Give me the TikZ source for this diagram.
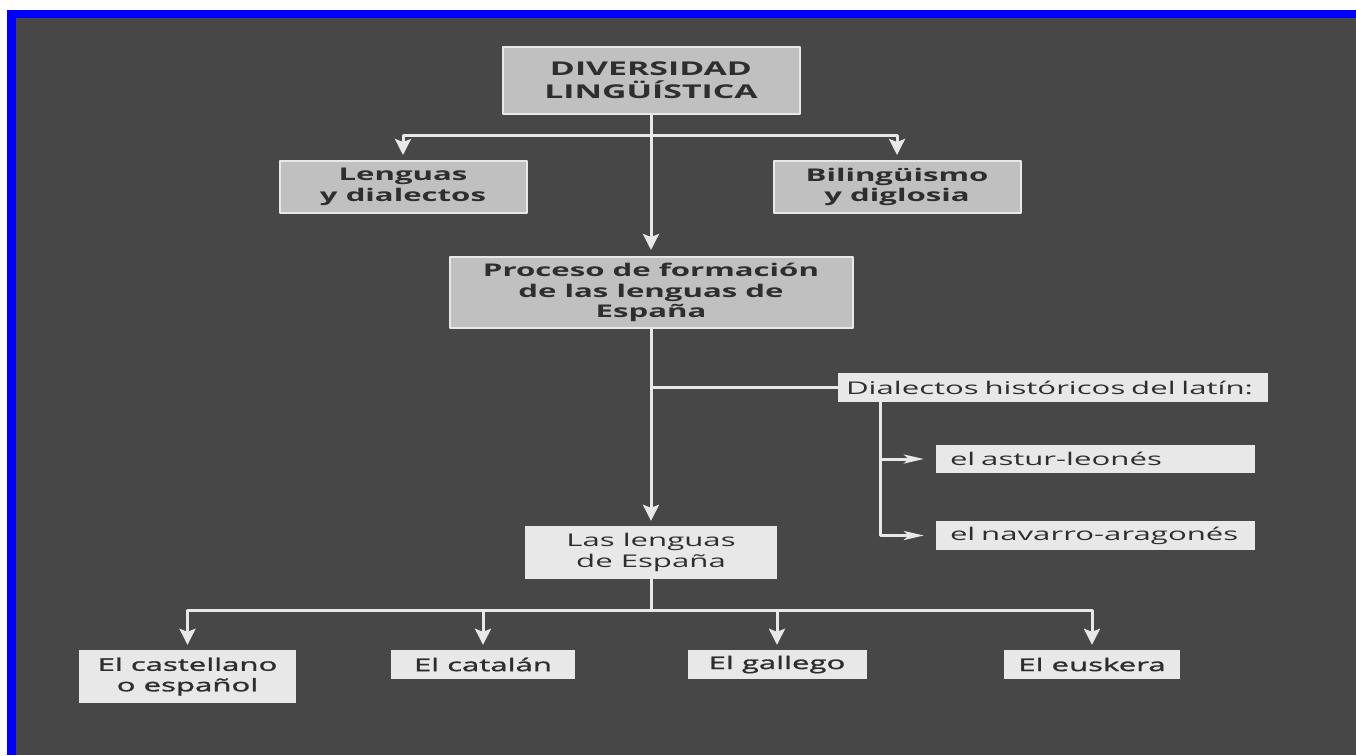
\documentclass[tikz,border=0pt]{standalone}
\usepackage{fontspec}
\setmainfont{Open Sans}[FakeStretch=1.78]
\newfontfamily\mediumfont{Open Sans}[FakeStretch=1.78, FakeBold=1.6]
\usetikzlibrary{arrows.meta}
\definecolor{bg}{HTML}{474747}
\definecolor{darkbox}{HTML}{C0C0C0}
\definecolor{lightbox}{HTML}{E8E8E8}
\definecolor{ink}{HTML}{2E2E2E}
\definecolor{frameblue}{HTML}{0000FF}

\begin{document}
\begin{tikzpicture}[x=1pt, y=-1pt, line join=round,
  greybox/.style={fill=darkbox, draw=lightbox, line width=2pt, inner sep=0pt, text=ink,
    font=\bfseries\fontsize{17.5}{20.5}\selectfont, align=center},
  lightbx/.style={fill=lightbox, inner sep=0pt, text=ink,
    font=\fontsize{17.5}{20.5}\selectfont, align=center},
  langbox/.style={lightbx, font=\mediumfont\fontsize{17.5}{20.5}\selectfont},
  link/.style={draw=lightbox, line width=3pt},
  arr/.style={link, -{Stealth[length=16pt, width=16pt, inset=3pt]}, shorten >=5pt},
  thinarr/.style={link, -{Stealth[length=20pt, width=9pt, inset=5pt]}, shorten >=12pt}]
  \useasboundingbox (0,0) rectangle (1356,755);
  % frame
  \fill[white] (0,0) rectangle (1356,755);
  \fill[frameblue] (7,10) rectangle (1356,755);
  \fill[bg] (16,18) rectangle (1356,755);

  % upper part
  \node[greybox, minimum width=297pt, minimum height=67pt,
    font=\bfseries\fontsize{19}{23}\selectfont] (div) at (651,80.5) {DIVERSIDAD\\LINGÜÍSTICA};
  \node[greybox, minimum width=247pt, minimum height=52pt] (leng) at (403,187) {Lenguas\\y dialectos};
  \node[greybox, minimum width=247pt, minimum height=52pt] (bil) at (897,187) {Bilingüismo\\y diglosia};
  \node[greybox, minimum width=403pt, minimum height=71pt] (proc) at (651,292.5)
    {Proceso de formación\\de las lenguas de\\España};

  % dialects
  \node[lightbx, minimum width=430pt, minimum height=29pt, text width=414pt, align=left]
    (dial) at (1053,387.5) {Dialectos históricos del latín:};
  \node[lightbx, minimum width=319pt, minimum height=28pt, text width=291pt, align=left]
    (ast) at (1095.5,459) {el astur-leonés};
  \node[lightbx, minimum width=319pt, minimum height=29pt, text width=291pt, align=left]
    (nav) at (1095.5,535.5) {el navarro-aragonés};

  % languages
  \node[lightbx, minimum width=252pt, minimum height=53pt] (lasl) at (651,552.5) {Las lenguas\\de España};
  \node[langbox, minimum width=217pt, minimum height=53pt] (cas) at (187.5,676.5) {El castellano\\o español};
  \node[langbox, minimum width=184pt, minimum height=29pt] (cat) at (483,664.5) {El catalán};
  \node[langbox, minimum width=179pt, minimum height=29pt] (gal) at (777,664.5) {El gallego};
  \node[langbox, minimum width=176pt, minimum height=29pt] (eus) at (1092,664.5) {El euskera};

  % connectors
  \coordinate (topfork) at (651,135);
  \coordinate (dialfork) at (880,0 |- dial.south);
  \coordinate (botfork) at (651,610);
  \draw[arr, shorten >=6pt] (div.south) -- (div.south |- proc.north);
  \draw[arr] (topfork) -| (leng.north);
  \draw[arr] (topfork) -| (bil.north);
  \draw[arr] (proc.south) -- (lasl.north);
  \draw[link] (proc.south |- dial.west) -- (dial.west);
  \draw[thinarr] (dialfork) |- (ast.west);
  \draw[thinarr] (dialfork) |- (nav.west);
  \draw[link] (lasl.south) -- (botfork);
  \draw[arr] (botfork) -| (cas.north);
  \draw[arr] (botfork) -| (cat.north);
  \draw[arr] (botfork) -| (gal.north);
  \draw[arr] (botfork) -| (eus.north);
\end{tikzpicture}
\end{document}
